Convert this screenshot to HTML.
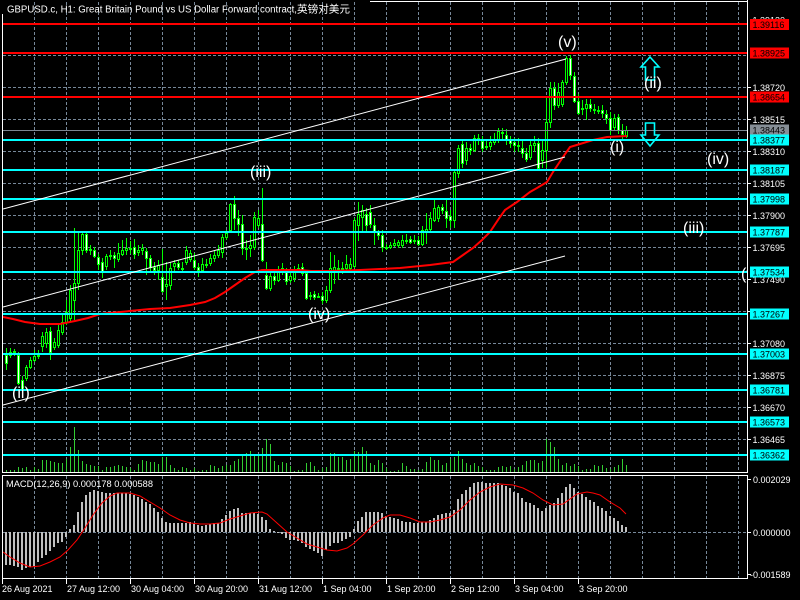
<!DOCTYPE html>
<html><head><meta charset="utf-8"><style>html,body{margin:0;padding:0;background:#000;}svg{display:block}</style></head>
<body>
<svg width="800" height="600" viewBox="0 0 800 600" xmlns="http://www.w3.org/2000/svg">
<rect width="800" height="600" fill="#000"/>
<defs><clipPath id="m"><rect x="3" y="2" width="744" height="470"/></clipPath></defs>

<!-- grid -->
<g stroke="#778899" stroke-width="1" stroke-dasharray="3 2" fill="none">
<path d="M34.5 2V472M66.5 2V472M98.5 2V472M130.5 2V472M162.5 2V472M194.5 2V472M226.5 2V472M258.5 2V472M290.5 2V472M322.5 2V472M354.5 2V472M386.5 2V472M418.5 2V472M450.5 2V472M482.5 2V472M514.5 2V472M546.5 2V472M578.5 2V472M610.5 2V472M642.5 2V472M674.5 2V472M706.5 2V472M738.5 2V472"/>
<path d="M34.5 476V578M66.5 476V578M98.5 476V578M130.5 476V578M162.5 476V578M194.5 476V578M226.5 476V578M258.5 476V578M290.5 476V578M322.5 476V578M354.5 476V578M386.5 476V578M418.5 476V578M450.5 476V578M482.5 476V578M514.5 476V578M546.5 476V578M578.5 476V578M610.5 476V578M642.5 476V578M674.5 476V578M706.5 476V578M738.5 476V578"/>
<path d="M3 23.5H747M3 55.5H747M3 87.5H747M3 119.5H747M3 151.5H747M3 183.5H747M3 215.5H747M3 247.5H747M3 279.5H747M3 311.5H747M3 343.5H747M3 375.5H747M3 407.5H747M3 439.5H747"/>
<path d="M3 532.5H747"/>
</g>

<g clip-path="url(#m)">
<!-- volumes -->
<path fill="none" stroke="#32cd32" stroke-width="1" d="M6.5 472v-2M10.5 472v-2M14.5 472v-2M18.5 472v-5M22.5 472v-4M26.5 472v-5M30.5 472v-2M34.5 472v-5M38.5 472v-3M42.5 472v-12M46.5 472v-12M50.5 472v-11M54.5 472v-10M58.5 472v-9M62.5 472v-9M66.5 472v-13M70.5 472v-25M74.5 472v-45M78.5 472v-22M82.5 472v-11M86.5 472v-8M90.5 472v-7M94.5 472v-6M98.5 472v-6M102.5 472v-2M106.5 472v-5M110.5 472v-5M114.5 472v-6M118.5 472v-7M122.5 472v-6M126.5 472v-5M130.5 472v-4M134.5 472v-2M138.5 472v-8M142.5 472v-12M146.5 472v-11M150.5 472v-10M154.5 472v-10M158.5 472v-8M162.5 472v-15M166.5 472v-15M170.5 472v-7M174.5 472v-4M178.5 472v-2M182.5 472v-5M186.5 472v-4M190.5 472v-2M194.5 472v-4M198.5 472v-1M202.5 472v-2M206.5 472v-2M210.5 472v-7M214.5 472v-6M218.5 472v-4M222.5 472v-6M226.5 472v-7M230.5 472v-7M234.5 472v-11M238.5 472v-13M242.5 472v-17M246.5 472v-19M250.5 472v-21M254.5 472v-16M258.5 472v-17M262.5 472v-24M266.5 472v-33M270.5 472v-28M274.5 472v-11M278.5 472v-7M282.5 472v-10M286.5 472v-9M290.5 472v-6M294.5 472v-1M298.5 472v-2M302.5 472v-2M306.5 472v-9M310.5 472v-10M314.5 472v-6M318.5 472v-2M322.5 472v-4M326.5 472v-5M330.5 472v-19M334.5 472v-19M338.5 472v-15M342.5 472v-15M346.5 472v-12M350.5 472v-13M354.5 472v-21M358.5 472v-20M362.5 472v-25M366.5 472v-21M370.5 472v-9M374.5 472v-7M378.5 472v-12M382.5 472v-9M386.5 472v-4M390.5 472v-1M394.5 472v-1M398.5 472v-2M402.5 472v-9M406.5 472v-6M410.5 472v-3M414.5 472v-3M418.5 472v-2M422.5 472v-3M426.5 472v-10M430.5 472v-15M434.5 472v-12M438.5 472v-12M442.5 472v-7M446.5 472v-9M450.5 472v-13M454.5 472v-15M458.5 472v-21M462.5 472v-13M466.5 472v-9M470.5 472v-7M474.5 472v-9M478.5 472v-6M482.5 472v-5M486.5 472v-2M490.5 472v-2M494.5 472v-2M498.5 472v-5M502.5 472v-6M506.5 472v-5M510.5 472v-6M514.5 472v-3M518.5 472v-5M522.5 472v-7M526.5 472v-11M530.5 472v-12M534.5 472v-12M538.5 472v-9M542.5 472v-11M546.5 472v-33M550.5 472v-30M554.5 472v-25M558.5 472v-13M562.5 472v-7M566.5 472v-9M570.5 472v-6M574.5 472v-8M578.5 472v-6M582.5 472v-2M586.5 472v-3M590.5 472v-3M594.5 472v-7M598.5 472v-6M602.5 472v-7M606.5 472v-4M610.5 472v-3M614.5 472v-5M618.5 472v-7M622.5 472v-13M626.5 472v-7"/>

<!-- wicks -->
<path fill="none" stroke="#00ff00" stroke-width="1" d="M6.5 348V370M10.5 348V358M14.5 349V356M18.5 352V385M22.5 376V393M26.5 365V381M30.5 357V369M34.5 350V362M38.5 350V359M42.5 332V352M46.5 328V348M50.5 327V360M54.5 338V350M58.5 325V348M62.5 315V335M66.5 300V325M70.5 285V322M74.5 228V320M78.5 233V290M82.5 232V255M86.5 232V253M90.5 245V255M94.5 247V258M98.5 254V270M102.5 258V278M106.5 254V270M110.5 250V260M114.5 252V268M118.5 243V262M122.5 240V256M126.5 238V255M130.5 241V254M134.5 239V259M138.5 245V256M142.5 244V255M146.5 248V275M150.5 255V272M154.5 262V275M158.5 260V280M162.5 249V293M166.5 262V300M170.5 262V290M174.5 260V272M178.5 260V270M182.5 262V272M186.5 246V265M190.5 250V262M194.5 253V270M198.5 263V277M202.5 258V273M206.5 259V268M210.5 254V266M214.5 250V262M218.5 245V258M222.5 234V258M226.5 230V240M230.5 203V232M234.5 196V230M238.5 210V236M242.5 215V255M246.5 240V260M250.5 235V257M254.5 212V250M258.5 210V228M262.5 188V262M266.5 262V290M270.5 270V291M274.5 270V285M278.5 266V282M282.5 263V275M286.5 268V285M290.5 270V283M294.5 266V282M298.5 264V272M302.5 263V276M306.5 270V300M310.5 292V300M314.5 291V300M318.5 293V298M322.5 292V304M326.5 286V303M330.5 252V293M334.5 255V284M338.5 260V280M342.5 262V274M346.5 255V270M350.5 258V272M354.5 218V268M358.5 202V241M362.5 205V232M366.5 208V232M370.5 205V228M374.5 218V245M378.5 230V240M382.5 230V252M386.5 244V250M390.5 242V249M394.5 239V247M398.5 240V248M402.5 235V248M406.5 234V244M410.5 236V244M414.5 235V244M418.5 236V246M422.5 226V246M426.5 213V244M430.5 212V232M434.5 198V222M438.5 205V222M442.5 204V214M446.5 200V228M450.5 210V228M454.5 170V228M458.5 145V178M462.5 140V168M466.5 142V165M470.5 144V155M474.5 135V152M478.5 134V145M482.5 136V152M486.5 140V150M490.5 136V150M494.5 133V145M498.5 128V143M502.5 128V140M506.5 129V145M510.5 136V148M514.5 138V152M518.5 138V152M522.5 140V158M526.5 148V162M530.5 140V160M534.5 136V152M538.5 138V170M542.5 140V168M546.5 98V168M550.5 82V128M554.5 82V110M558.5 83V108M562.5 80V107M566.5 56V85M570.5 55V80M574.5 72V103M578.5 94V115M582.5 100V115M586.5 99V120M590.5 99V112M594.5 104V114M598.5 106V114M602.5 105V118M606.5 110V124M610.5 112V135M614.5 114V130M618.5 114V134M622.5 124V140M626.5 126V138"/>

<!-- bear bodies (white) -->
<path fill="#fff" stroke="#00ff00" stroke-width="1" d="M5.5 355.5h2v8h-2zM17.5 355.5h2v28h-2zM21.5 380.5h2v10h-2zM49.5 331.5h2v21h-2zM85.5 234.5h2v16h-2zM93.5 250.5h2v6h-2zM97.5 257.5h2v7h-2zM101.5 262.5h2v10h-2zM113.5 255.5h2v3h-2zM133.5 247.5h2v7h-2zM145.5 251.5h2v7h-2zM149.5 258.5h2v9h-2zM153.5 267.5h2v3h-2zM161.5 277.5h2v14h-2zM177.5 263.5h2v4h-2zM193.5 260.5h2v7h-2zM197.5 267.5h2v3h-2zM233.5 204.5h2v14h-2zM237.5 218.5h2v6h-2zM241.5 224.5h2v24h-2zM261.5 224.5h2v36h-2zM265.5 275.5h2v13h-2zM273.5 276.5h2v4h-2zM285.5 272.5h2v9h-2zM301.5 267.5h2v6h-2zM305.5 273.5h2v25h-2zM313.5 294.5h2v3h-2zM321.5 296.5h2v4h-2zM365.5 214.5h2v11h-2zM369.5 212.5h2v12h-2zM373.5 225.5h2v7h-2zM377.5 232.5h2v3h-2zM381.5 235.5h2v12h-2zM409.5 239.5h2v3h-2zM417.5 240.5h2v4h-2zM441.5 207.5h2v3h-2zM445.5 211.5h2v7h-2zM449.5 216.5h2v4h-2zM461.5 144.5h2v19h-2zM469.5 148.5h2v2h-2zM477.5 138.5h2v2h-2zM481.5 141.5h2v7h-2zM505.5 135.5h2v5h-2zM509.5 140.5h2v3h-2zM513.5 142.5h2v3h-2zM521.5 148.5h2v5h-2zM525.5 153.5h2v6h-2zM537.5 143.5h2v25h-2zM553.5 88.5h2v17h-2zM569.5 58.5h2v17h-2zM573.5 76.5h2v25h-2zM577.5 101.5h2v12h-2zM589.5 104.5h2v4h-2zM601.5 110.5h2v3h-2zM605.5 114.5h2v4h-2zM609.5 118.5h2v12h-2zM617.5 117.5h2v13h-2zM621.5 130.5h2v4h-2z"/>

<!-- bull bodies (black) -->
<path fill="#000" stroke="#00ff00" stroke-width="1" d="M9.5 352.5h2v3h-2zM13.5 351.5h2v1h-2zM25.5 367.5h2v11h-2zM29.5 360.5h2v7h-2zM33.5 356.5h2v4h-2zM37.5 355.5h2v1h-2zM41.5 336.5h2v10h-2zM45.5 332.5h2v11h-2zM53.5 342.5h2v5h-2zM57.5 330.5h2v15h-2zM61.5 322.5h2v10h-2zM65.5 312.5h2v10h-2zM69.5 290.5h2v28h-2zM73.5 283.5h2v17h-2zM77.5 250.5h2v33h-2zM81.5 234.5h2v16h-2zM89.5 249.5h2v1h-2zM105.5 256.5h2v10h-2zM109.5 255.5h2v1h-2zM117.5 253.5h2v6h-2zM121.5 250.5h2v4h-2zM125.5 248.5h2v2h-2zM129.5 248.5h2v1h-2zM137.5 250.5h2v2h-2zM141.5 248.5h2v2h-2zM157.5 265.5h2v5h-2zM165.5 284.5h2v2h-2zM169.5 268.5h2v17h-2zM173.5 263.5h2v3h-2zM181.5 268.5h2v1h-2zM185.5 250.5h2v12h-2zM189.5 253.5h2v6h-2zM201.5 264.5h2v6h-2zM205.5 264.5h2v1h-2zM209.5 258.5h2v5h-2zM213.5 255.5h2v3h-2zM217.5 250.5h2v5h-2zM221.5 237.5h2v15h-2zM225.5 233.5h2v4h-2zM229.5 204.5h2v26h-2zM245.5 248.5h2v1h-2zM249.5 245.5h2v3h-2zM253.5 217.5h2v30h-2zM257.5 218.5h2v7h-2zM269.5 276.5h2v12h-2zM277.5 272.5h2v8h-2zM281.5 268.5h2v4h-2zM289.5 276.5h2v4h-2zM293.5 270.5h2v8h-2zM297.5 268.5h2v2h-2zM309.5 295.5h2v1h-2zM317.5 296.5h2v1h-2zM325.5 290.5h2v10h-2zM329.5 268.5h2v22h-2zM333.5 267.5h2v3h-2zM337.5 268.5h2v1h-2zM341.5 268.5h2v1h-2zM345.5 264.5h2v4h-2zM349.5 264.5h2v4h-2zM353.5 220.5h2v46h-2zM357.5 214.5h2v11h-2zM361.5 210.5h2v7h-2zM385.5 247.5h2v1h-2zM389.5 245.5h2v2h-2zM393.5 243.5h2v2h-2zM397.5 242.5h2v3h-2zM401.5 240.5h2v5h-2zM405.5 240.5h2v1h-2zM413.5 240.5h2v1h-2zM421.5 230.5h2v14h-2zM425.5 229.5h2v3h-2zM429.5 218.5h2v11h-2zM433.5 208.5h2v12h-2zM437.5 207.5h2v11h-2zM453.5 172.5h2v48h-2zM457.5 148.5h2v25h-2zM465.5 148.5h2v12h-2zM473.5 138.5h2v12h-2zM485.5 146.5h2v1h-2zM489.5 142.5h2v4h-2zM493.5 140.5h2v2h-2zM497.5 131.5h2v9h-2zM501.5 132.5h2v1h-2zM517.5 145.5h2v1h-2zM529.5 145.5h2v12h-2zM533.5 143.5h2v2h-2zM541.5 150.5h2v10h-2zM545.5 122.5h2v28h-2zM549.5 88.5h2v34h-2zM557.5 92.5h2v13h-2zM561.5 82.5h2v22h-2zM565.5 58.5h2v24h-2zM581.5 108.5h2v1h-2zM585.5 104.5h2v4h-2zM593.5 109.5h2v1h-2zM597.5 110.5h2v1h-2zM613.5 118.5h2v9h-2zM625.5 130.5h2v6h-2z"/>

<!-- moving average -->
<polyline fill="none" stroke="#ff0000" stroke-width="2" points="3,317 13,319 25,322 40,324 60,324 75,321 88,318 100,314 120,312 150,309 170,308 190,305 205,302 215,298 225,292 235,285 245,278 255,272 262,270 300,270 311,271 330,271 360,270 400,268 430,265 453,262 463,255 473,248 482,240 490,232 500,217 505,210 517,202 530,192 537,188 547,182 553,172 563,157 570,147 580,144 593,140 607,137 627,136"/>

<!-- horizontal levels -->
<g stroke-width="2">
<path stroke="#ff0000" d="M3 24H747M3 53H747M3 97H747"/>
<path stroke="#00ffff" d="M3 140H747M3 170H747M3 199H747M3 232H747M3 272H747M3 314H747M3 354H747M3 390H747M3 422H747M3 455H747"/>
</g>
<path stroke="#7b8591" stroke-width="1" d="M3 130.5H747"/>

<!-- trend lines -->
<g stroke="#fff" stroke-width="1" fill="none">
<line x1="3" y1="209" x2="566" y2="59"/>
<line x1="3" y1="307" x2="565" y2="157"/>
<line x1="3" y1="405" x2="565" y2="256"/>
</g>

<!-- arrows -->
<g fill="none" stroke="#00ffff" stroke-width="1.6">
<path d="M650 57L659 67H654.5V80H645.5V67H641Z"/>
<path d="M645.5 123H654.5V135H659L650 146L641 135H645.5Z"/>
</g>

<!-- wave labels -->
<g fill="#fff" font-family="Liberation Sans, sans-serif" font-size="16">
<text x="558" y="47">(v)</text>
<text x="250" y="177">(iii)</text>
<text x="308" y="319">(iv)</text>
<text x="12" y="398">(ii)</text>
<text x="610" y="152">(i)</text>
<text x="644" y="88">(ii)</text>
<text x="707" y="164">(iv)</text>
<text x="683" y="233">(iii)</text>
<text x="741" y="279">(v)</text>
</g>
</g>

<!-- MACD -->
<path fill="none" stroke="#c0c0c0" stroke-width="2" d="M6 532V565M10 532V565M14 532V566M18 532V567M22 532V570M26 532V568M30 532V567M34 532V566M38 532V562M42 532V558M46 532V555M50 532V551M54 532V547M58 532V543M62 532V542M66 532V537M70 532V529M74 532V525M78 532V512M82 532V502M86 532V495M90 532V492M94 532V490M98 532V491M102 532V492M106 532V493M110 532V493M114 532V493M118 532V493M122 532V493M126 532V493M130 532V494M134 532V495M138 532V497M142 532V499M146 532V502M150 532V504M154 532V508M158 532V512M162 532V518M166 532V522M170 532V523M174 532V523M178 532V523M182 532V523M186 532V523M190 532V522M194 532V524M198 532V525M202 532V526M206 532V525M210 532V524M214 532V523M218 532V523M222 532V519M226 532V515M230 532V511M234 532V509M238 532V508M242 532V513M246 532V513M250 532V513M254 532V513M258 532V514M262 532V517M266 532V520M270 532V529M274 532V531M278 532V533M282 532V534M286 532V538M290 532V540M294 532V540M298 532V541M302 532V543M306 532V547M310 532V549M314 532V551M318 532V553M322 532V556M326 532V550M330 532V546M334 532V543M338 532V543M342 532V541M346 532V539M350 532V537M354 532V529M358 532V521M362 532V517M366 532V512M370 532V512M374 532V512M378 532V512M382 532V513M386 532V516M390 532V517M394 532V518M398 532V519M402 532V521M406 532V522M410 532V522M414 532V523M418 532V523M422 532V522M426 532V522M430 532V520M434 532V518M438 532V515M442 532V514M446 532V513M450 532V513M454 532V510M458 532V499M462 532V494M466 532V490M470 532V487M474 532V483M478 532V482M482 532V482M486 532V483M490 532V483M494 532V483M498 532V483M502 532V485M506 532V486M510 532V488M514 532V492M518 532V493M522 532V498M526 532V502M530 532V503M534 532V505M538 532V508M542 532V511M546 532V508M550 532V505M554 532V503M558 532V498M562 532V493M566 532V487M570 532V484M574 532V488M578 532V492M582 532V494M586 532V497M590 532V500M594 532V502M598 532V506M602 532V508M606 532V511M610 532V516M614 532V518M618 532V521M622 532V525M626 532V527"/>
<polyline fill="none" stroke="#ff0000" stroke-width="1" points="3,552 10,557 20,563 30,567 40,566 50,562 60,557 68,550 77,540 85,528 93,515 102,503 110,496 117,493 130,493 140,496 150,502 160,508 170,515 180,520 190,523 200,524 210,524 220,523 230,519 240,516 250,513 262,512 267,514 277,523 287,532 297,538 307,544 317,547 327,550 337,551 347,548 353,544 363,535 373,525 383,518 390,515 400,515 410,518 420,522 430,522 440,520 450,517 460,510 470,500 480,492 490,487 500,484 513,485 523,488 533,493 543,500 553,505 563,504 570,499 577,494 587,492 593,493 600,495 610,502 620,508 626,514"/>

<!-- borders -->
<g stroke="#fff" stroke-width="1" fill="none">
<path d="M2.5 14V472.5H747.5V0"/>
<path d="M370 1.5H747.5"/>
<path d="M2.5 475.5H747.5V578.5H2.5Z"/>
<path d="M747 87.5h4M747 119.5h4M747 151.5h4M747 183.5h4M747 215.5h4M747 247.5h4M747 279.5h4M747 311.5h4M747 343.5h4M747 375.5h4M747 407.5h4M747 439.5h4M747 479.5h4M747 532.5h4M747 574.5h4"/>
<path d="M2.5 579V584M66.5 579V584M130.5 579V584M194.5 579V584M258.5 579V584M322.5 579V584M386.5 579V584M450.5 579V584M514.5 579V584M578.5 579V584"/>
</g>

<!-- price axis text -->
<g fill="#fff" font-family="Liberation Sans, sans-serif" font-size="9">
<text x="752.5" y="23.3">1.39130</text>
<text x="752.5" y="90.8">1.38720</text>
<text x="752.5" y="122.8">1.38515</text>
<text x="752.5" y="154.8">1.38310</text>
<text x="752.5" y="186.8">1.38105</text>
<text x="752.5" y="218.8">1.37900</text>
<text x="752.5" y="250.8">1.37695</text>
<text x="752.5" y="282.8">1.37490</text>
<text x="752.5" y="314.8">1.37285</text>
<text x="752.5" y="346.8">1.37080</text>
<text x="752.5" y="378.8">1.36875</text>
<text x="752.5" y="410.8">1.36670</text>
<text x="752.5" y="442.8">1.36465</text>
<text x="753" y="482.8">0.002029</text>
<text x="753" y="535.8">0.000000</text>
<text x="750" y="577.8">-0.001589</text>
</g>

<!-- price boxes -->
<g font-family="Liberation Sans, sans-serif" font-size="9">
<rect x="750" y="19" width="39" height="11" fill="#ff0000"/><text x="752.5" y="27.8" fill="#000">1.39116</text>
<rect x="750" y="47.5" width="39" height="11" fill="#ff0000"/><text x="752.5" y="56.3" fill="#000">1.38925</text>
<rect x="750" y="91.5" width="39" height="11" fill="#ff0000"/><text x="752.5" y="100.3" fill="#000">1.38654</text>
<rect x="750" y="124.5" width="39" height="11" fill="#868e96"/><text x="752.5" y="133.3" fill="#000">1.38443</text>
<rect x="750" y="134.5" width="39" height="11" fill="#00ffff"/><text x="752.5" y="143.3" fill="#000">1.38377</text>
<rect x="750" y="164.5" width="39" height="11" fill="#00ffff"/><text x="752.5" y="173.3" fill="#000">1.38187</text>
<rect x="750" y="193.5" width="39" height="11" fill="#00ffff"/><text x="752.5" y="202.3" fill="#000">1.37998</text>
<rect x="750" y="226.5" width="39" height="11" fill="#00ffff"/><text x="752.5" y="235.3" fill="#000">1.37787</text>
<rect x="750" y="266.5" width="39" height="11" fill="#00ffff"/><text x="752.5" y="275.3" fill="#000">1.37534</text>
<rect x="750" y="308.5" width="39" height="11" fill="#00ffff"/><text x="752.5" y="317.3" fill="#000">1.37267</text>
<rect x="750" y="348.5" width="39" height="11" fill="#00ffff"/><text x="752.5" y="357.3" fill="#000">1.37003</text>
<rect x="750" y="384.5" width="39" height="11" fill="#00ffff"/><text x="752.5" y="393.3" fill="#000">1.36781</text>
<rect x="750" y="416.5" width="39" height="11" fill="#00ffff"/><text x="752.5" y="425.3" fill="#000">1.36573</text>
<rect x="750" y="449.5" width="39" height="11" fill="#00ffff"/><text x="752.5" y="458.3" fill="#000">1.36362</text>
</g>

<!-- time axis -->
<g fill="#fff" font-family="Liberation Sans, sans-serif" font-size="9">
<text x="2" y="592">26 Aug 2021</text>
<text x="67" y="592">27 Aug 12:00</text>
<text x="131" y="592">30 Aug 04:00</text>
<text x="195" y="592">30 Aug 20:00</text>
<text x="259" y="592">31 Aug 12:00</text>
<text x="323" y="592">1 Sep 04:00</text>
<text x="387" y="592">1 Sep 20:00</text>
<text x="451" y="592">2 Sep 12:00</text>
<text x="515" y="592">3 Sep 04:00</text>
<text x="579" y="592">3 Sep 20:00</text>
</g>

<!-- titles -->
<g fill="#fff" font-family="Liberation Sans, 'Noto Sans CJK SC', sans-serif">
<text x="7" y="12.5" font-size="10" textLength="290" lengthAdjust="spacingAndGlyphs">GBPUSD.c, H1:  Great Britain Pound vs US Dollar Forward contract,</text>
<text x="297" y="12.5" font-size="10.5" textLength="53" lengthAdjust="spacingAndGlyphs">英镑对美元</text>
<text x="6" y="487" font-size="9.5" textLength="147" lengthAdjust="spacingAndGlyphs">MACD(12,26,9) 0.000178 0.000588</text>
</g>
</svg>
</body></html>
